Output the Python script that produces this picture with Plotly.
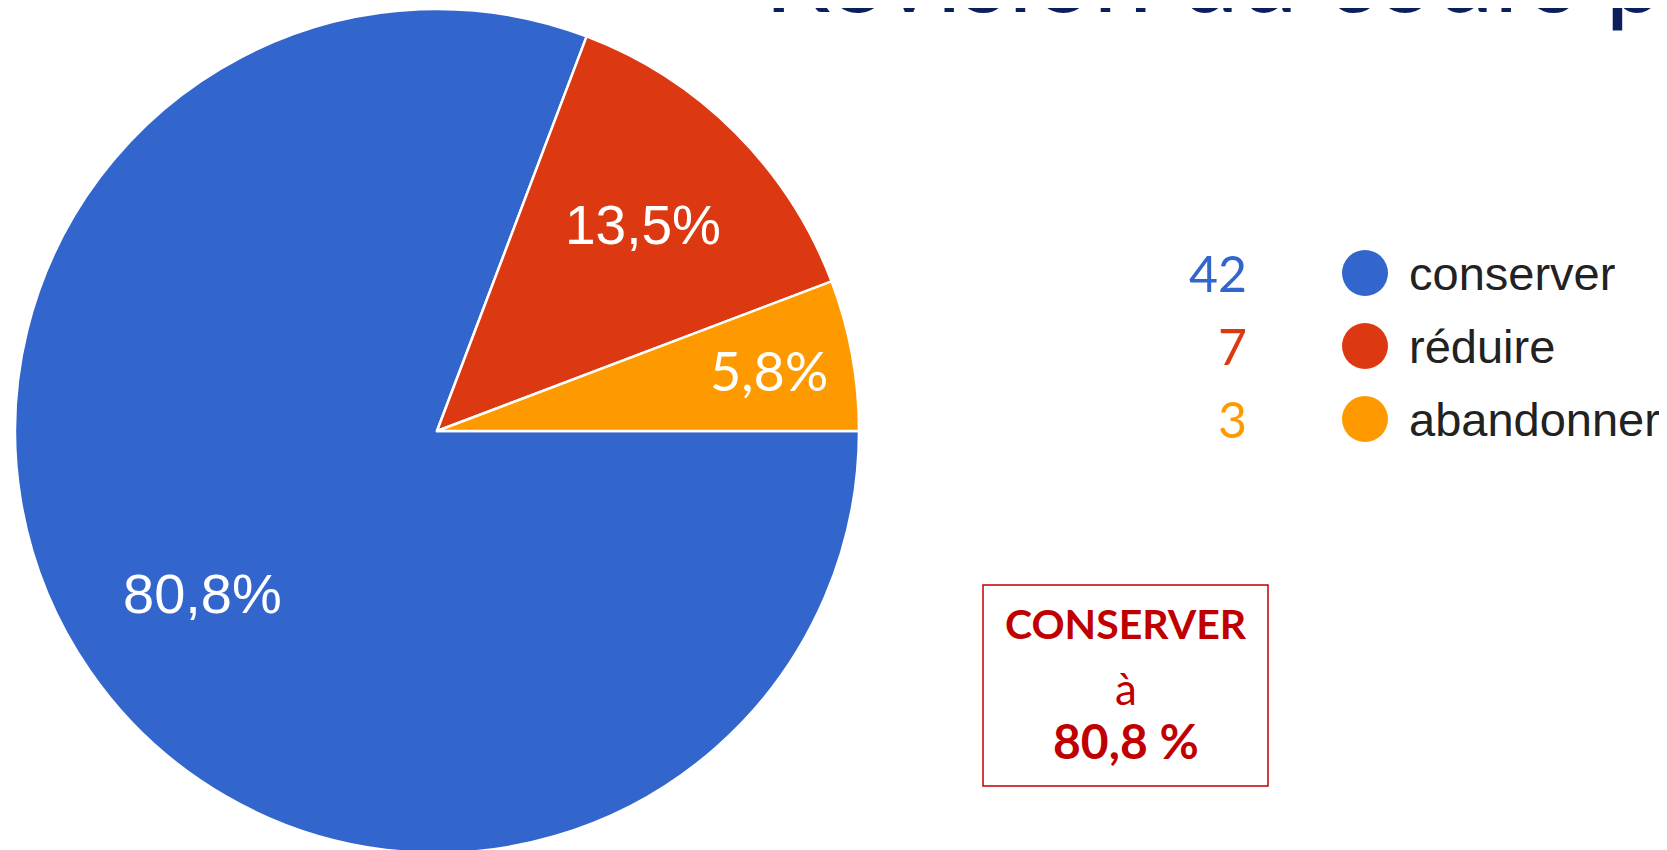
import math
import plotly.graph_objects as go

W, H = 1667, 850

categories = ["conserver", "réduire", "abandonner"]
counts = [42, 7, 3]
colors = ["#3366CC", "#DC3912", "#FF9900"]
title_text = "Révision du cours pr"
box_lines = ["CONSERVER", "à", "80,8 %"]

total = sum(counts)
pcts = [f"{100 * c / total:.1f}%".replace(".", ",") for c in counts]

# pie geometry (figure pixels, from top-left)
cx, cy_top = 429, 423
R = 422

def px(x):
    return x / W

def py(y):
    return 1 - y / H

fig = go.Figure()
fig.add_trace(go.Pie(
    labels=categories, values=counts, sort=False,
    direction="clockwise", rotation=90,
    marker=dict(colors=colors, line=dict(color="white", width=2.5)),
    textinfo="none", showlegend=False, hoverinfo="label+value+percent",
    domain=dict(x=[px(cx - R), px(cx + R)], y=[py(cy_top + R), py(cy_top - R)]),
))

annotations = []
# slice labels positioned at mid-angles of slices
radial = [0.676, 0.69, 0.80]
label_fonts = [
    dict(family="Liberation Sans, Arial", size=56, color="white"),
    dict(family="Liberation Sans, Arial", size=55, color="white"),
    dict(family="Lato, Carlito, sans-serif", size=54, color="white"),
]
cum = 0
for i, c in enumerate(counts):
    mid = math.radians(90 + 360 * (cum + c / 2) / total)
    cum += c
    x = cx + R * radial[i] * math.sin(mid)
    y = cy_top - R * radial[i] * math.cos(mid)
    annotations.append(dict(x=px(x), y=py(y), xref="paper", yref="paper",
                            text=pcts[i], showarrow=False, font=label_fonts[i],
                            xanchor="center", yanchor="middle"))

# custom legend
shapes = []
row_y = [265, 338, 411]
for i, cat in enumerate(categories):
    y = row_y[i]
    annotations.append(dict(x=px(1241), y=py(y), xref="paper", yref="paper",
                            text=str(counts[i]), showarrow=False,
                            font=dict(family="Lato, sans-serif", size=50, color=colors[i]),
                            xanchor="right", yanchor="middle"))
    shapes.append(dict(type="circle", xref="paper", yref="paper",
                       x0=px(1357 - 23), x1=px(1357 + 23), y0=py(y - 23), y1=py(y + 23),
                       fillcolor=colors[i], line=dict(width=0)))
    annotations.append(dict(x=px(1399), y=py(y), xref="paper", yref="paper",
                            text=cat, showarrow=False,
                            font=dict(family="Liberation Sans, Arial", size=47, color="#222222"),
                            xanchor="left", yanchor="middle"))

# boxed conclusion
shapes.append(dict(type="rect", xref="paper", yref="paper",
                   x0=px(975), x1=px(1260), y0=py(778), y1=py(577),
                   line=dict(color="#C00000", width=1.5), fillcolor="rgba(0,0,0,0)"))
box_y = [615, 680, 732]
box_fonts = [
    dict(family="Lato, sans-serif", size=41, color="#C00000", weight="bold"),
    dict(family="Lato, sans-serif", size=44, color="#C00000"),
    dict(family="Lato, sans-serif", size=48, color="#C00000", weight="bold"),
]
for t, y, f in zip(box_lines, box_y, box_fonts):
    annotations.append(dict(x=px(1118), y=py(y), xref="paper", yref="paper",
                            text=t, showarrow=False, font=f,
                            xanchor="center", yanchor="middle"))

# cut-off title
annotations.append(dict(x=px(754), y=py(-37), xref="paper", yref="paper",
                        text=title_text, showarrow=False,
                        font=dict(family="Lato, sans-serif", size=106, color="#0B1F5C"),
                        xanchor="left", yanchor="middle"))

fig.update_layout(width=W, height=H, margin=dict(l=0, r=0, t=0, b=0),
                  paper_bgcolor="white", plot_bgcolor="white",
                  annotations=annotations, shapes=shapes)

fig.write_html("out.html")
